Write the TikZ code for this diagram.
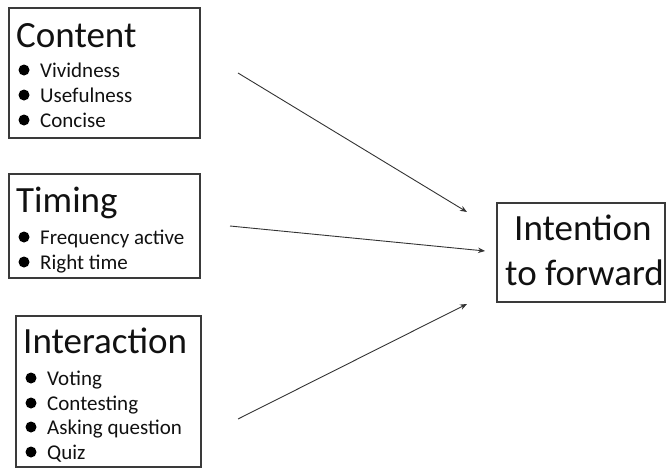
\documentclass[tikz,border=0pt]{standalone}
\usepackage{fontspec}
\setmainfont{Carlito}
\usetikzlibrary{arrows.meta}
\definecolor{boxline}{HTML}{3A3A3A}
\definecolor{txt}{HTML}{111111}
\begin{document}
\begin{tikzpicture}[x=1pt,y=-1pt,
  box/.style={draw=boxline,line width=1.5pt},
  title/.style={anchor=base west,inner sep=0,font=\fontsize{37}{40}\selectfont,text=txt},
  item/.style={anchor=base west,inner sep=0,font=\fontsize{21}{24}\selectfont,text=txt},
  dot/.style={circle,fill=black,inner sep=0,minimum size=11pt},
  conn/.style={draw=black!80,line width=0.9pt,-{Stealth[length=7pt,width=5.5pt]}}]
\useasboundingbox (0,0) rectangle (667,471);
% Content
\draw[box] (9,8) rectangle (200,138);
\node[title] (ct) at (16,47) {Content};
\node[dot] (cb1) at (24,70) {};
\node[item] (c1) at (40,77) {Vividness};
\node[dot] (cb2) at (24,95) {};
\node[item] (c2) at (40,102) {Usefulness};
\node[dot] (cb3) at (24,120) {};
\node[item] (c3) at (40,127) {Concise};
% Timing
\draw[box] (9,174) rectangle (200,278);
\node[title] (tt) at (16,212) {Timing};
\node[dot] (tb1) at (24,237) {};
\node[item] (t1) at (40,244) {Frequency active};
\node[dot] (tb2) at (24,262) {};
\node[item] (t2) at (40,269) {Right time};
% Interaction
\draw[box] (16,316) rectangle (201,467);
\node[title] (it) at (23,353) {Interaction};
\node[dot] (ib1) at (31,378) {};
\node[item] (i1) at (47,385) {Voting};
\node[dot] (ib2) at (31,403) {};
\node[item] (i2) at (47,410) {Contesting};
\node[dot] (ib3) at (31,427) {};
\node[item] (i3) at (47,434) {Asking question};
\node[dot] (ib4) at (31,452) {};
\node[item] (i4) at (47,459) {Quiz};
% Intention
\draw[box] (497,203) rectangle (665,302);
\node[title] (in1) at (514,240) {Intention};
\node[title] (in2) at (505,285) {to forward};
% connectors
\coordinate (s1) at (238,73);
\coordinate (e1) at (467,212);
\coordinate (s2) at (230,226);
\coordinate (e2) at (485,251);
\coordinate (s3) at (238,419);
\coordinate (e3) at (467,304);
\draw[conn] (s1) -- (e1);
\draw[conn] (s2) -- (e2);
\draw[conn] (s3) -- (e3);
\end{tikzpicture}
\end{document}
